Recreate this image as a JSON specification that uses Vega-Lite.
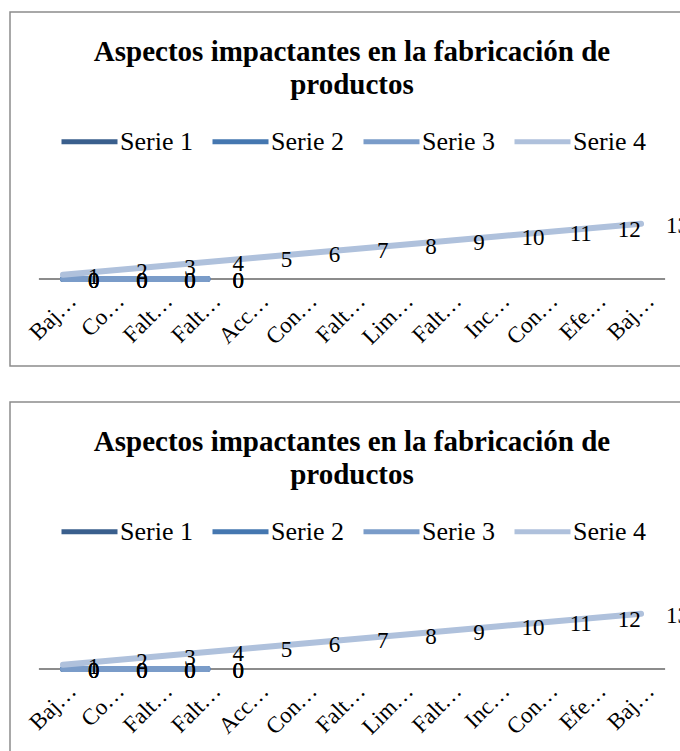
{
  "$schema": "https://vega.github.io/schema/vega-lite/v6.json",
  "padding": {"left": 9, "top": 11, "right": 0, "bottom": 0},
  "spacing": 34,
  "config": {
    "view": {"stroke": "#8c8c8c", "strokeWidth": 1.5},
    "font": "Liberation Serif"
  },
  "resolve": {
    "scale": {"x": "independent", "y": "independent", "color": "independent"},
    "legend": {"color": "independent"},
    "axis": {"x": "independent"}
  },
  "datasets": {
    "series": [
      {"categoria": "Baj…", "idx": 1, "serie": "Serie 1", "valor": 0},
      {"categoria": "Co…", "idx": 2, "serie": "Serie 1", "valor": 0},
      {"categoria": "Falt…", "idx": 3, "serie": "Serie 1", "valor": 0},
      {"categoria": "Falt…", "idx": 4, "serie": "Serie 1", "valor": 0},
      {"categoria": "Baj…", "idx": 1, "serie": "Serie 2", "valor": 0},
      {"categoria": "Co…", "idx": 2, "serie": "Serie 2", "valor": 0},
      {"categoria": "Falt…", "idx": 3, "serie": "Serie 2", "valor": 0},
      {"categoria": "Falt…", "idx": 4, "serie": "Serie 2", "valor": 0},
      {"categoria": "Baj…", "idx": 1, "serie": "Serie 3", "valor": 0},
      {"categoria": "Co…", "idx": 2, "serie": "Serie 3", "valor": 0},
      {"categoria": "Falt…", "idx": 3, "serie": "Serie 3", "valor": 0},
      {"categoria": "Falt…", "idx": 4, "serie": "Serie 3", "valor": 0},
      {"categoria": "Baj…", "idx": 1, "serie": "Serie 4", "valor": 1},
      {"categoria": "Co…", "idx": 2, "serie": "Serie 4", "valor": 2},
      {"categoria": "Falt…", "idx": 3, "serie": "Serie 4", "valor": 3},
      {"categoria": "Falt…", "idx": 4, "serie": "Serie 4", "valor": 4},
      {"categoria": "Acc…", "idx": 5, "serie": "Serie 4", "valor": 5},
      {"categoria": "Con…", "idx": 6, "serie": "Serie 4", "valor": 6},
      {"categoria": "Falt…", "idx": 7, "serie": "Serie 4", "valor": 7},
      {"categoria": "Lim…", "idx": 8, "serie": "Serie 4", "valor": 8},
      {"categoria": "Falt…", "idx": 9, "serie": "Serie 4", "valor": 9},
      {"categoria": "Inc…", "idx": 10, "serie": "Serie 4", "valor": 10},
      {"categoria": "Con…", "idx": 11, "serie": "Serie 4", "valor": 11},
      {"categoria": "Efe…", "idx": 12, "serie": "Serie 4", "valor": 12},
      {"categoria": "Baj…", "idx": 13, "serie": "Serie 4", "valor": 13}
    ],
    "eje": [
      {"desde": 0.5, "hasta": 13.5, "base": 0}
    ]
  },
  "vconcat": [
    {
      "width": 684,
      "height": 354,
      "title": {
        "text": ["Aspectos impactantes en la fabricación de", "productos"],
        "font": "Liberation Serif",
        "fontSize": 29,
        "fontWeight": "bold",
        "color": "#000000",
        "lineHeight": 33,
        "anchor": "middle",
        "frame": "group",
        "baseline": "top",
        "offset": -88
      },
      "encoding": {
        "x": {
          "field": "idx",
          "type": "quantitative",
          "scale": {"domain": [-0.1, 14.1], "nice": false, "zero": false},
          "axis": {
            "values": [1, 2, 3, 4, 5, 6, 7, 8, 9, 10, 11, 12, 13],
            "labelExpr": "['Baj…','Co…','Falt…','Falt…','Acc…','Con…','Falt…','Lim…','Falt…','Inc…','Con…','Efe…','Baj…'][datum.value - 1]",
            "labelAngle": -45,
            "labelAlign": "right",
            "labelBaseline": "middle",
            "labelFont": "Liberation Serif",
            "labelFontSize": 23,
            "labelColor": "#000000",
            "labelPadding": 18,
            "labelOffset": 9,
            "labelOverlap": false,
            "labelBound": false,
            "ticks": false,
            "domain": false,
            "grid": false,
            "title": null,
            "offset": -87
          }
        },
        "y": {
          "field": "valor",
          "type": "quantitative",
          "scale": {"domain": [-20.47, 62.8], "nice": false, "zero": false},
          "axis": null
        }
      },
      "layer": [
        {
          "data": {"name": "eje"},
          "mark": {"type": "rule", "color": "#8c8c8c", "strokeWidth": 2},
          "encoding": {
            "x": {"field": "desde", "type": "quantitative"},
            "x2": {"field": "hasta"},
            "y": {"field": "base", "type": "quantitative"}
          }
        },
        {
          "data": {"name": "series"},
          "mark": {"type": "line", "strokeWidth": 6, "strokeCap": "round", "strokeJoin": "round"},
          "encoding": {
            "color": {
              "field": "serie",
              "type": "nominal",
              "scale": {
                "domain": ["Serie 1", "Serie 2", "Serie 3", "Serie 4"],
                "range": ["#3a5f8d", "#4577b0", "#7a9cc9", "#afc1dc"]
              },
              "legend": {
                "orient": "none",
                "legendX": 49,
                "legendY": 99,
                "direction": "horizontal",
                "title": null,
                "symbolType": "stroke",
                "symbolSize": 3136,
                "symbolStrokeWidth": 5,
                "labelFont": "Liberation Serif",
                "labelFontSize": 26,
                "labelColor": "#000000",
                "labelOffset": 0,
                "columnPadding": 9
              }
            }
          }
        },
        {
          "data": {"name": "series"},
          "mark": {"type": "text", "align": "left", "baseline": "middle", "dx": 25, "dy": 2, "font": "Liberation Serif", "fontSize": 23, "color": "#000000"},
          "encoding": {
            "text": {"field": "valor", "type": "quantitative"}
          }
        }
      ]
    },
    {
      "width": 684,
      "height": 354,
      "title": {
        "text": ["Aspectos impactantes en la fabricación de", "productos"],
        "font": "Liberation Serif",
        "fontSize": 29,
        "fontWeight": "bold",
        "color": "#000000",
        "lineHeight": 33,
        "anchor": "middle",
        "frame": "group",
        "baseline": "top",
        "offset": -88
      },
      "encoding": {
        "x": {
          "field": "idx",
          "type": "quantitative",
          "scale": {"domain": [-0.1, 14.1], "nice": false, "zero": false},
          "axis": {
            "values": [1, 2, 3, 4, 5, 6, 7, 8, 9, 10, 11, 12, 13],
            "labelExpr": "['Baj…','Co…','Falt…','Falt…','Acc…','Con…','Falt…','Lim…','Falt…','Inc…','Con…','Efe…','Baj…'][datum.value - 1]",
            "labelAngle": -45,
            "labelAlign": "right",
            "labelBaseline": "middle",
            "labelFont": "Liberation Serif",
            "labelFontSize": 23,
            "labelColor": "#000000",
            "labelPadding": 18,
            "labelOffset": 9,
            "labelOverlap": false,
            "labelBound": false,
            "ticks": false,
            "domain": false,
            "grid": false,
            "title": null,
            "offset": -87
          }
        },
        "y": {
          "field": "valor",
          "type": "quantitative",
          "scale": {"domain": [-20.47, 62.8], "nice": false, "zero": false},
          "axis": null
        }
      },
      "layer": [
        {
          "data": {"name": "eje"},
          "mark": {"type": "rule", "color": "#8c8c8c", "strokeWidth": 2},
          "encoding": {
            "x": {"field": "desde", "type": "quantitative"},
            "x2": {"field": "hasta"},
            "y": {"field": "base", "type": "quantitative"}
          }
        },
        {
          "data": {"name": "series"},
          "mark": {"type": "line", "strokeWidth": 6, "strokeCap": "round", "strokeJoin": "round"},
          "encoding": {
            "color": {
              "field": "serie",
              "type": "nominal",
              "scale": {
                "domain": ["Serie 1", "Serie 2", "Serie 3", "Serie 4"],
                "range": ["#3a5f8d", "#4577b0", "#7a9cc9", "#afc1dc"]
              },
              "legend": {
                "orient": "none",
                "legendX": 49,
                "legendY": 99,
                "direction": "horizontal",
                "title": null,
                "symbolType": "stroke",
                "symbolSize": 3136,
                "symbolStrokeWidth": 5,
                "labelFont": "Liberation Serif",
                "labelFontSize": 26,
                "labelColor": "#000000",
                "labelOffset": 0,
                "columnPadding": 9
              }
            }
          }
        },
        {
          "data": {"name": "series"},
          "mark": {"type": "text", "align": "left", "baseline": "middle", "dx": 25, "dy": 2, "font": "Liberation Serif", "fontSize": 23, "color": "#000000"},
          "encoding": {
            "text": {"field": "valor", "type": "quantitative"}
          }
        }
      ]
    }
  ]
}
